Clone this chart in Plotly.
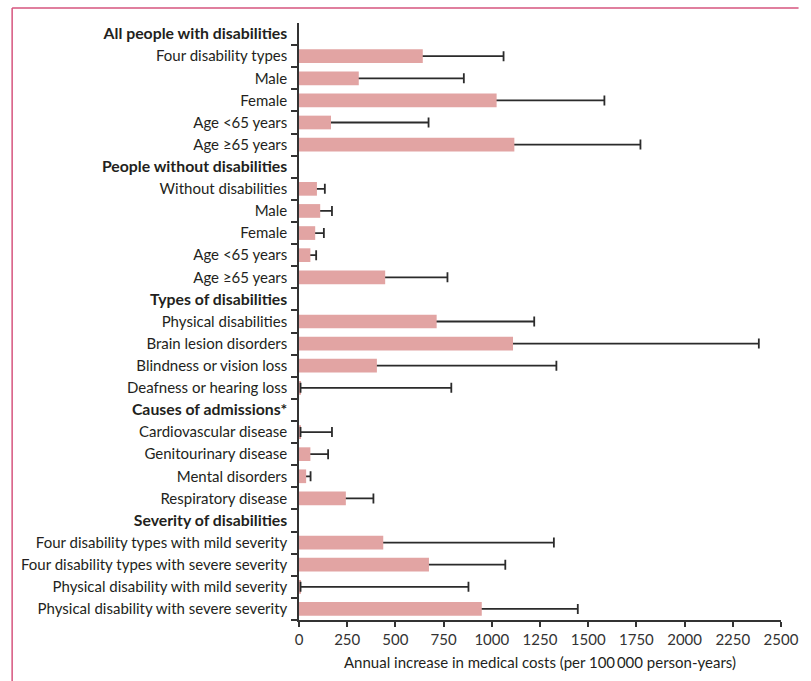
import plotly.graph_objects as go

# Row labels, top to bottom; section headers are flagged separately
labels = [
    "All people with disabilities",
    "Four disability types", "Male", "Female", "Age <65 years", "Age ≥65 years",
    "People without disabilities",
    "Without disabilities", "Male", "Female", "Age <65 years", "Age ≥65 years",
    "Types of disabilities",
    "Physical disabilities", "Brain lesion disorders", "Blindness or vision loss",
    "Deafness or hearing loss",
    "Causes of admissions*",
    "Cardiovascular disease", "Genitourinary disease", "Mental disorders",
    "Respiratory disease",
    "Severity of disabilities",
    "Four disability types with mild severity",
    "Four disability types with severe severity",
    "Physical disability with mild severity",
    "Physical disability with severe severity",
]
is_header = [
    True, False, False, False, False, False,
    True, False, False, False, False, False,
    True, False, False, False, False,
    True, False, False, False, False,
    True, False, False, False, False,
]

# Annual increase in medical costs (per 100 000 person-years): estimate and 95% CI
estimate = [None, 642, 310, 1025, 166, 1117,
            None, 93, 110, 84, 59, 447,
            None, 714, 1110, 404, 8,
            None, 8, 59, 37, 243,
            None, 437, 674, 8, 948]
ci_upper = [None, 1061, 855, 1584, 672, 1771,
            None, 134, 171, 129, 89, 770,
            None, 1220, 2385, 1335, 790,
            None, 171, 151, 60, 386,
            None, 1322, 1070, 879, 1446]
ci_lower = [None, 230, 40, 470, 20, 460,
            None, 52, 50, 40, 30, 125,
            None, 210, 40, 20, 8,
            None, 8, 20, 15, 100,
            None, 40, 280, 8, 450]

x_ticks = [0, 250, 500, 750, 1000, 1250, 1500, 1750, 2000, 2250, 2500]

BAR = "#e2a4a3"
INK = "#2b2b2b"
TEXT = "#231f20"
FONT = "Lato, 'Open Sans', sans-serif"

rows = list(range(len(labels)))
ticktext = [f"<span style='font-size:15.8px'><b>{t}</b></span>" if h else t
            for t, h in zip(labels, is_header)]


def split(mask):
    xs, ys, plus, minus = [], [], [], []
    for i in rows:
        v = estimate[i]
        if v is None:
            continue
        inside = ci_lower[i] < v
        if inside != mask:
            continue
        xs.append(v)
        ys.append(i)
        plus.append(ci_upper[i] - v)
        minus.append(v - ci_lower[i])
    return xs, ys, plus, minus


def whisker_trace(mask):
    xs, ys, plus, minus = split(mask)
    return go.Bar(
        x=xs, y=ys, orientation="h", width=0.62,
        marker=dict(color="rgba(0,0,0,0)", line=dict(width=0)),
        error_x=dict(type="data", symmetric=False, array=plus, arrayminus=minus,
                     color=INK, thickness=1.8, width=5),
        hoverinfo="skip", showlegend=False,
    )


fig = go.Figure()
# whiskers whose lower end sits inside the bar go underneath it
fig.add_trace(whisker_trace(True))
bx = [estimate[i] for i in rows if estimate[i] is not None]
by = [i for i in rows if estimate[i] is not None]
fig.add_trace(go.Bar(x=bx, y=by, orientation="h", width=0.62,
                     marker=dict(color=BAR, line=dict(width=0)), showlegend=False))
# whiskers starting at (near) zero are drawn on top
fig.add_trace(whisker_trace(False))

L, R, T, B = 299, 18, 23, 61
PW, PH = 811 - L - R, 681 - T - B

fig.update_layout(
    width=811, height=681,
    margin=dict(l=L, r=R, t=T, b=B),
    barmode="overlay",
    plot_bgcolor="white", paper_bgcolor="white",
    font=dict(family=FONT, size=15, color=TEXT),
    xaxis=dict(
        range=[0, 2500], tickvals=x_ticks, ticks="outside", ticklen=5, tickwidth=1.5,
        tickcolor="#333", showline=True, linecolor="#333", linewidth=1.5,
        showgrid=False, zeroline=False, ticklabeloverflow="allow",
        tickfont=dict(size=15, color="#333"),
        title=dict(text="Annual increase in medical costs (per 100\u2009000 person-years)",
                   font=dict(size=15, color=TEXT), standoff=11),
    ),
    yaxis=dict(
        range=[26.5, -0.5], tickmode="array", tickvals=rows, ticktext=ticktext,
        ticks="outside", ticklen=7, tickcolor="rgba(0,0,0,0)",
        showline=True, linecolor="#333", linewidth=1.5,
        showgrid=False, zeroline=False,
        tickfont=dict(size=15, color=TEXT),
        minor=dict(tickmode="array", tickvals=[r + 0.5 for r in rows[:-1]] + [26.5],
                   ticks="outside", ticklen=6, tickwidth=1.5, tickcolor="#333",
                   showgrid=False),
    ),
    shapes=[
        # frame lines along the top and left edges of the panel
        dict(type="line", xref="paper", yref="paper",
             x0=(5 - L) / PW, x1=(811 - L) / PW,
             y0=(681 - B - 8) / PH, y1=(681 - B - 8) / PH,
             line=dict(color="#d6557e", width=1.5)),
        dict(type="line", xref="paper", yref="paper",
             x0=(5 - L) / PW, x1=(5 - L) / PW,
             y0=(681 - B - 8) / PH, y1=(681 - B - 690) / PH,
             line=dict(color="#d6557e", width=1.5)),
    ],
)

fig.write_html("out.html")
